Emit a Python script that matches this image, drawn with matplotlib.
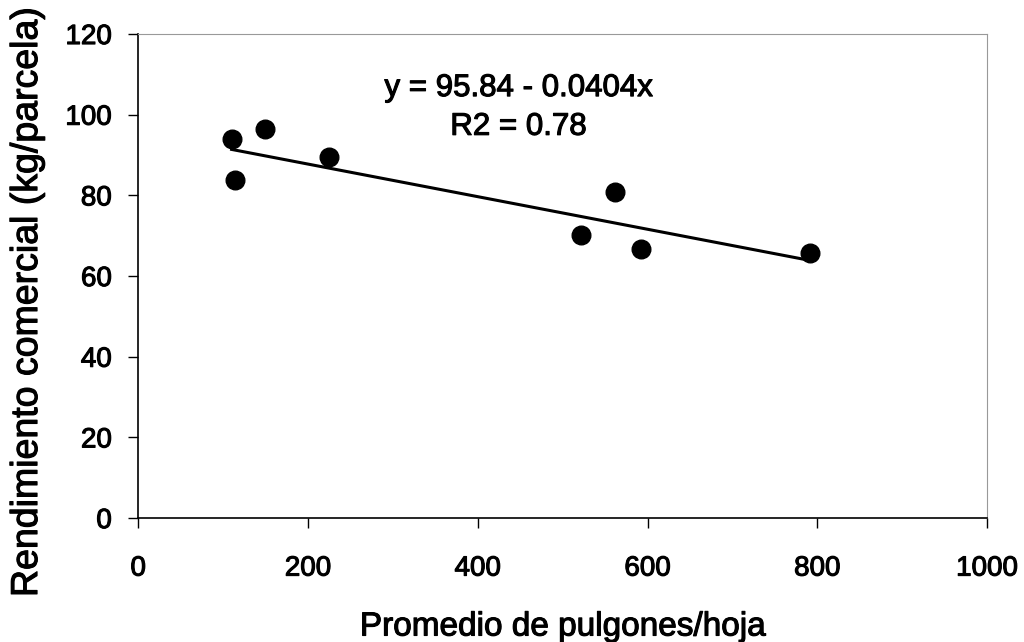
import numpy as np
import matplotlib
matplotlib.use("Agg")
import matplotlib.pyplot as plt
import matplotlib.patheffects as pe

plt.rcParams['font.family'] = ['Liberation Sans', 'DejaVu Sans']

# pulgones por hoja vs rendimiento comercial
pulgones = [110, 114, 149, 225, 521, 562, 592, 791]
rendimiento = [94.0, 83.8, 96.5, 89.5, 70.2, 80.8, 66.7, 65.7]

intercepto = 95.84
pendiente = -0.0404
r2 = 0.78

x_ticks = [0, 200, 400, 600, 800, 1000]
y_ticks = [0, 20, 40, 60, 80, 100, 120]

fig = plt.figure(figsize=(10.24, 6.42), dpi=100)
ax = fig.add_axes([0.135, 0.193, 0.829, 0.754])

ax.scatter(pulgones, rendimiento, s=180, color='black', zorder=3)

x_lin = np.array([min(pulgones), max(pulgones)])
ax.plot(x_lin, intercepto + pendiente * x_lin, color='black', lw=2.2, zorder=2)

grueso = [pe.withStroke(linewidth=0.8, foreground='black')]  # texto escaneado se ve mas grueso

t1 = ax.text(448, 106.6, "y = 95.84 - 0.0404x", ha='center', va='center', fontsize=22.5)
t2 = ax.text(448, 97, "R2 = %.2f" % r2, ha='center', va='center', fontsize=22.5)

ax.set_xlim(0, 1000)
ax.set_ylim(0, 120)
ax.set_xticks(x_ticks)
ax.set_yticks(y_ticks)
ax.tick_params(axis='both', labelsize=20, direction='out', length=7, width=1)
ax.tick_params(axis='x', pad=20)
ax.tick_params(axis='y', pad=12)

for s in ['left', 'bottom']:
    ax.spines[s].set_color('black')
    ax.spines[s].set_linewidth(1.2)
for s in ['top', 'right']:
    ax.spines[s].set_color('#999999')
    ax.spines[s].set_linewidth(0.8)

xl = ax.set_xlabel("Promedio de pulgones/hoja", fontsize=24, va='center')
ax.xaxis.set_label_coords(0.5, -0.225)
yl = ax.set_ylabel("Rendimiento comercial (kg/parcela)", fontsize=27, va='center')
ax.yaxis.set_label_coords(-0.131, 0.446)

for t in [t1, t2, xl, yl] + ax.get_xticklabels() + ax.get_yticklabels():
    t.set_path_effects(grueso)

fig.savefig("out.png", dpi=100)
